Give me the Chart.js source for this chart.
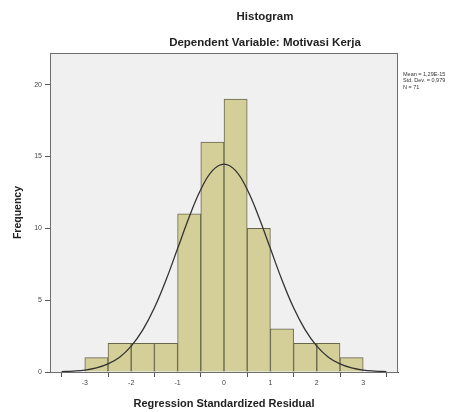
<!DOCTYPE html>
<html>
<head>
<meta charset="utf-8">
<script src="https://cdn.jsdelivr.net/npm/chart.js@4/dist/chart.umd.min.js"></script>
<style>
  html, body { margin: 0; padding: 0; background: #fff; }
  #wrap { width: 472px; height: 412px; position: relative; }
</style>
</head>
<body>
<div id="wrap"><canvas id="hist"></canvas></div>
<script>
// histogram bins (centres) and counts
const binCenters = [-2.75, -2.25, -1.75, -1.25, -0.75, -0.25, 0.25, 0.75, 1.25, 1.75, 2.25, 2.75];
const binCounts = [1, 2, 2, 2, 11, 16, 19, 10, 3, 2, 2, 1];

// normal curve
const curveX = [-3.5, -3.25, -3, -2.75, -2.5, -2.25, -2, -1.75, -1.5, -1.25, -1, -0.75, -0.5, -0.25, 0,
    0.25, 0.5, 0.75, 1, 1.25, 1.5, 1.75, 2, 2.25, 2.5, 2.75, 3, 3.25, 3.5];
const curveY = [0.02, 0.06, 0.13, 0.28, 0.56, 1.03, 1.8, 2.93, 4.47, 6.4, 8.59, 10.79, 12.7, 14.01, 14.47,
    14.01, 12.7, 10.79, 8.59, 6.4, 4.47, 2.93, 1.8, 1.03, 0.56, 0.28, 0.13, 0.06, 0.02];

const xTicks = [-3, -2, -1, 0, 1, 2, 3];
const yTicks = [0, 5, 10, 15, 20];

const titleLines = ['Histogram', 'Dependent Variable: Motivasi Kerja'];
const statsLines = ['Mean = 1,29E-15', 'Std. Dev. = 0,979', 'N = 71'];

const frameAndText = {
    id: 'frameAndText',
    beforeDatasetsDraw(chart) {
        const { ctx, chartArea: a } = chart;
        ctx.save();
        ctx.fillStyle = '#f0f0f0';
        ctx.fillRect(a.left, a.top, a.right - a.left, a.bottom - a.top);
        ctx.restore();
    },
    afterDraw(chart) {
        const { ctx, chartArea: a } = chart;
        ctx.save();
        ctx.strokeStyle = '#6e6e6e';
        ctx.lineWidth = 1;
        ctx.strokeRect(a.left + 0.5, a.top + 0.5, a.right - a.left - 1, a.bottom - a.top);

        ctx.fillStyle = '#222';
        ctx.textAlign = 'center';
        ctx.textBaseline = 'middle';
        ctx.font = 'bold 11.5px "Liberation Sans", Arial, sans-serif';
        ctx.fillText(titleLines[0], 265, 17);
        ctx.fillText(titleLines[1], 265, 43);

        ctx.textAlign = 'left';
        ctx.font = '5.5px "Liberation Sans", Arial, sans-serif';
        ctx.fillStyle = '#333';
        statsLines.forEach((s, i) => ctx.fillText(s, a.right + 5, 74 + i * 6.5));
        ctx.restore();
    },
};

new Chart(document.getElementById('hist').getContext('2d'), {
    type: 'bar',
    data: {
        datasets: [
            {
                type: 'line',
                data: curveX.map((x, i) => ({ x, y: curveY[i] })),
                borderColor: '#333',
                borderWidth: 1.3,
                pointRadius: 0,
                tension: 0.4,
                fill: false,
                order: 0,
                clip: 0,
            },
            {
                type: 'bar',
                data: binCenters.map((x, i) => ({ x, y: binCounts[i] })),
                backgroundColor: '#d4cf98',
                borderColor: '#67664c',
                borderWidth: 1,
                barPercentage: 1,
                categoryPercentage: 1,
                order: 1,
            },
        ],
    },
    options: {
        responsive: true,
        maintainAspectRatio: false,
        animation: false,
        layout: { padding: { left: 0, right: 74, top: 53, bottom: 0 } },
        plugins: {
            legend: { display: false },
            tooltip: { enabled: false },
        },
        scales: {
            x: {
                type: 'linear',
                min: -3.75,
                max: 3.75,
                offset: false,
                afterBuildTicks: s => { s.ticks = xTicks.map(v => ({ value: v })); },
                afterFit: s => { s.height = 40; },
                grid: { drawOnChartArea: false, drawTicks: true, tickLength: 5, color: '#555' },
                border: { display: true, color: '#444' },
                ticks: { color: '#444', font: { size: 7, family: '"Liberation Sans", Arial' }, padding: 2, maxRotation: 0 },
                title: {
                    display: true,
                    text: 'Regression Standardized Residual',
                    color: '#222',
                    font: { size: 11, weight: 'bold', family: '"Liberation Sans", Arial' },
                    padding: { top: 2, bottom: 1 },
                },
            },
            y: {
                min: 0,
                max: 22.2,
                afterBuildTicks: s => { s.ticks = yTicks.map(v => ({ value: v })); },
                afterFit: s => { s.width = 50; },
                grid: { drawOnChartArea: false, drawTicks: true, tickLength: 5, color: '#555' },
                border: { display: true, color: '#444' },
                ticks: { color: '#444', font: { size: 7, family: '"Liberation Sans", Arial' }, padding: 3 },
                title: {
                    display: true,
                    text: 'Frequency',
                    color: '#222',
                    font: { size: 10.5, weight: 'bold', family: '"Liberation Sans", Arial' },
                    padding: { top: 12, bottom: 0 },
                },
            },
        },
    },
    plugins: [frameAndText],
});
</script>
</body>
</html>
